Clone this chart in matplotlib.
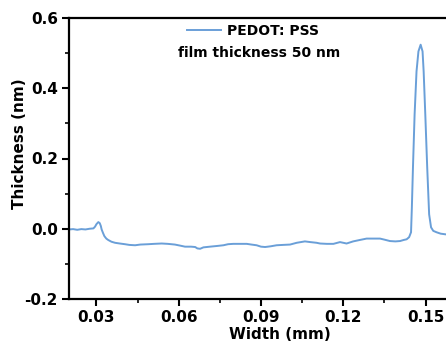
import matplotlib
matplotlib.use("Agg")
import matplotlib.pyplot as plt
from matplotlib.ticker import MultipleLocator, FormatStrFormatter

# profile (width in mm, thickness in nm)
width_mm = [0.0200, 0.0215, 0.0230, 0.0245, 0.0260, 0.0275, 0.0289, 0.0295,
            0.0300, 0.0307, 0.0312, 0.0316, 0.0319, 0.0324, 0.0329, 0.0336,
            0.0343, 0.0355, 0.0368, 0.0385, 0.0404, 0.0420, 0.0441, 0.0460,
            0.0489, 0.0510, 0.0538, 0.0560, 0.0586, 0.0605, 0.0623, 0.0645,
            0.0660, 0.0668, 0.0678, 0.0690, 0.0714, 0.0740, 0.0763, 0.0780,
            0.0799, 0.0825, 0.0848, 0.0865, 0.0884, 0.0900, 0.0915, 0.0935,
            0.0957, 0.0980, 0.1006, 0.1030, 0.1045, 0.1060, 0.1080, 0.1103,
            0.1115, 0.1140, 0.1164, 0.1188, 0.1200, 0.1212, 0.1236, 0.1260,
            0.1285, 0.1310, 0.1334, 0.1350, 0.1370, 0.1390, 0.1407, 0.1420,
            0.1431, 0.1440, 0.1447, 0.1450, 0.1454, 0.1460, 0.1467, 0.1474,
            0.1482, 0.1489, 0.1493, 0.1499, 0.1506, 0.1513, 0.1520, 0.1528,
            0.1540, 0.1555, 0.1574, 0.1600]
thickness_nm = [-0.002, -0.001, -0.003, -0.001, -0.002, 0.000, 0.001, 0.006,
                0.013, 0.019, 0.016, 0.008, -0.002, -0.012, -0.021, -0.028,
                -0.032, -0.037, -0.040, -0.042, -0.044, -0.046, -0.047, -0.045,
                -0.044, -0.043, -0.042, -0.043, -0.045, -0.048, -0.051, -0.051,
                -0.052, -0.056, -0.057, -0.053, -0.051, -0.049, -0.047, -0.044,
                -0.043, -0.043, -0.043, -0.045, -0.047, -0.051, -0.052, -0.050,
                -0.047, -0.046, -0.045, -0.040, -0.038, -0.036, -0.038, -0.040,
                -0.042, -0.043, -0.043, -0.038, -0.040, -0.042, -0.036, -0.032,
                -0.028, -0.028, -0.028, -0.031, -0.035, -0.036, -0.035, -0.032,
                -0.030, -0.024, -0.010, 0.060, 0.174, 0.325, 0.448, 0.505,
                0.524, 0.505, 0.448, 0.325, 0.174, 0.041, 0.004, -0.006,
                -0.010, -0.014, -0.016, -0.017]

series_label = "PEDOT: PSS"
note = "film thickness 50 nm"

plt.rcParams['font.family'] = ['DejaVu Sans']
plt.rcParams['font.weight'] = 'bold'
plt.rcParams['axes.unicode_minus'] = False

fig = plt.figure(figsize=(4.46, 3.54), dpi=100)
# right edge of the axes runs past the figure, as in the cropped original
ax = fig.add_axes([69 / 446, 55 / 354, 384 / 446, 281 / 354])

ax.plot(width_mm, thickness_nm, color='#6a9fd8', lw=1.4, label=series_label)

ax.set_xlim(0.02, 0.16)
ax.set_ylim(-0.2, 0.6)
ax.xaxis.set_major_locator(MultipleLocator(0.03))
ax.xaxis.set_minor_locator(MultipleLocator(0.015))
ax.yaxis.set_major_locator(MultipleLocator(0.2))
ax.yaxis.set_minor_locator(MultipleLocator(0.1))
ax.xaxis.set_major_formatter(FormatStrFormatter('%.2f'))
ax.yaxis.set_major_formatter(FormatStrFormatter('%.1f'))

for s in ax.spines.values():
    s.set_linewidth(1.6)
ax.tick_params(which='major', direction='out', length=5, width=1.5,
               labelsize=11, pad=3)
ax.tick_params(which='minor', direction='out', length=3, width=1.2)

ax.set_xlabel("Width (mm)", fontsize=11, fontweight='bold')
ax.set_ylabel("Thickness (nm)", fontsize=11, fontweight='bold')
ax.xaxis.set_label_coords(0.549, -0.10)
ax.yaxis.set_label_coords(-0.11, 0.552)

ax.legend(loc='center left', bbox_to_anchor=(186.7 / 446, 1 - 30.7 / 354),
          bbox_transform=fig.transFigure, frameon=False, borderpad=0,
          borderaxespad=0, handlelength=2.5, handletextpad=0.4,
          prop={'size': 10, 'weight': 'bold'})
fig.text(259.2 / 446, 1 - 56.7 / 354, note, ha='center', va='baseline',
         fontsize=10, fontweight='bold')

fig.savefig("out.png", dpi=100)
